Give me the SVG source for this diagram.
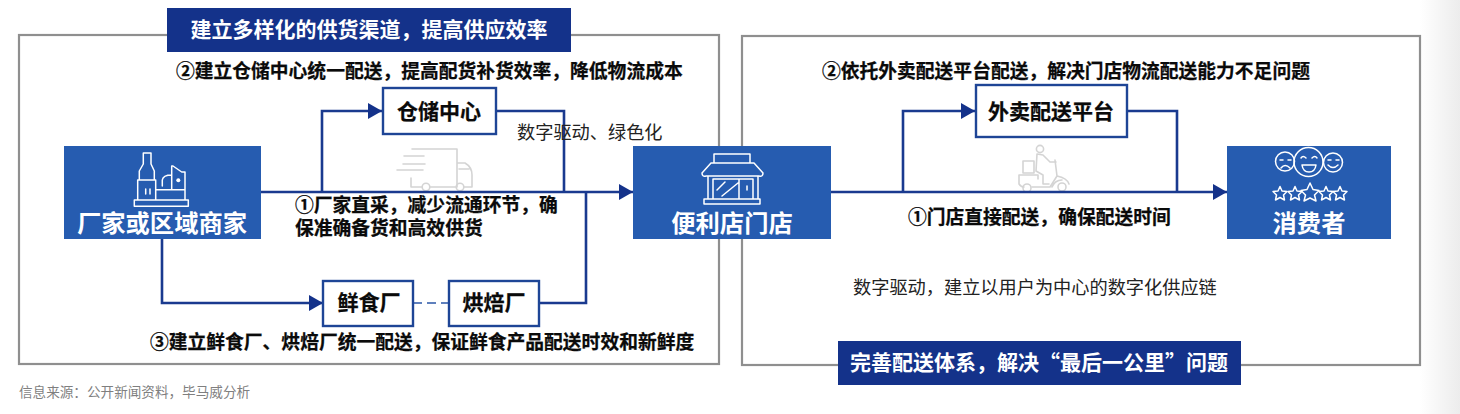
<svg xmlns="http://www.w3.org/2000/svg" width="1460" height="414" viewBox="0 0 1460 414">
<style>
text{font-family:"Noto Sans CJK SC","Liberation Sans",sans-serif}
.b{font-weight:700;fill:#0a0a0a;font-size:18.77px;stroke:#0a0a0a;stroke-width:.25}
.r{fill:#222;font-size:18.2px}
.w{font-weight:700;fill:#fff;text-anchor:middle}
.f{fill:none;stroke:#8f8f8f;stroke-width:2.2}
.bar{fill:#14328a}
.n{fill:#265cb0}
.box{fill:#fff;stroke:#1e4596;stroke-width:2.4}
.c{fill:none;stroke:#1a3a8f;stroke-width:2.6}
.i{fill:none;stroke:#fff;stroke-width:1.5;stroke-linejoin:round;stroke-linecap:round}
.g{fill:none;stroke:#d4d4d4;stroke-width:1.6;stroke-linejoin:round;stroke-linecap:round}
.t{font-weight:700;fill:#0a0a0a;font-size:21px;text-anchor:middle;stroke:#0a0a0a;stroke-width:.25}
</style>
<defs>
<marker id="a" markerUnits="userSpaceOnUse" markerWidth="14" markerHeight="16" refX="14" refY="8" orient="auto"><path d="M0 0L14 8L0 16Z" fill="#14328a"/></marker>
<linearGradient id="edge" x1="0" x2="1" y1="0" y2="0"><stop offset="0" stop-color="#fff"/><stop offset="1" stop-color="#ececec"/></linearGradient>
</defs>
<rect x="1420" width="40" height="414" fill="url(#edge)"/>
<rect class="f" x="19" y="35" width="700" height="329"/>
<rect class="f" x="742" y="36" width="678" height="329"/>
<g id="truck-icon">
<path class="g" d="M412 149H457V187M404 156H424M403 164H425M397 170H423M411 178V187H422M430 187H456M457 163H465Q472 167 472 175V187H464M459 169H469"/>
<circle class="g" cx="426" cy="187" r="3.800"/><circle class="g" cx="460" cy="187" r="3.800"/>
</g>
<g id="scooter-icon">
<circle class="g" cx="1040" cy="149" r="3.600"/>
<path class="g" d="M1037 154L1043 155L1050 162H1056M1037 154L1036 171L1043 175V184H1049M1023 161H1034V173H1023ZM1019 175H1038V179M1019 175V184Q1021 187 1024 187M1032 187H1050L1057 176L1055 160M1057 176Q1067 178 1069 184M1052 187Q1055 180 1062 180"/>
<circle class="g" cx="1027" cy="188" r="4"/><circle class="g" cx="1062" cy="187" r="4"/>
</g>
<g id="connectors">
<path class="c" d="M261 192H633" marker-end="url(#a)"/>
<path class="c" d="M322 192V111H382" marker-end="url(#a)"/>
<path class="c" d="M496 111H564V192"/>
<path class="c" d="M162 239V303H323" marker-end="url(#a)"/>
<path class="c" d="M540 303H586V192"/>
<path d="M413 303H449" fill="none" stroke="#5f80bd" stroke-width="2" stroke-dasharray="9 5"/>
<path class="c" d="M831 192H1227" marker-end="url(#a)"/>
<path class="c" d="M903 192V111H975" marker-end="url(#a)"/>
<path class="c" d="M1127 111H1177V192"/>
</g>
<g id="title-left"><rect class="bar" x="167" y="8" width="404" height="44"/><text class="w" x="369" y="37" font-size="21">建立多样化的供货渠道，提高供应效率</text></g>
<g id="title-right"><rect class="bar" x="838" y="341" width="403" height="44"/><text class="w" x="1039" y="370" font-size="21">完善配送体系，解决“最后一公里”问题</text></g>
<g id="factory"><rect class="n" x="64" y="146" width="197" height="93"/>
<path class="i" d="M143.300 153H151V164L154.300 171V180H139.300V171L143.300 164ZM137.700 180H155.700V200H137.700ZM145.700 189V194M150 189V194M134.300 200H188.300V206.300H134.300ZM155.700 189.700H185M162.300 186V180Q163 175 171.700 175M171.700 166V189.700M171.700 166H173L181.700 172H185V200"/><circle cx="178.300" cy="180.300" r="2" fill="#fff"/>
<text class="w" x="162" y="232" font-size="24.3">厂家或区域商家</text></g>
<g id="store"><rect class="n" x="633" y="146" width="198" height="93"/>
<path class="i" d="M714 154H750V163H714ZM711 163H754L763 173Q763 177 759 176H706Q702 177 702 173ZM708 176V199M758 176V199M704 199H760V204H704ZM713 179H753V199M713 179V199M739 179V199M717 190L725 182M722 196L738 183M747 186V190"/>
<text class="w" x="732" y="232" font-size="24.3">便利店门店</text></g>
<g id="consumer"><rect class="n" x="1227" y="146" width="164" height="93"/>
<circle class="i" cx="1285" cy="161.500" r="9.500"/><circle class="i" cx="1333" cy="162.500" r="9.500"/><circle class="i" cx="1308.500" cy="162" r="14.500"/>
<path class="i" d="M1280 160H1283M1288 160H1291M1281 168Q1285 163 1290 168M1328 160H1331M1336 160H1339M1328 165Q1333 170 1338 165M1301 158Q1303 155 1306 158M1312 158Q1315 155 1317 158M1302 165H1316Q1315 172 1309 172Q1303 172 1302 165Z"/>
<g transform="translate(1 0)">
<path class="i" d="M1279 186.500L1281 191L1286 191.500L1282.500 195L1283.500 200L1279 197.500L1274.500 200L1275.500 195L1272 191.500L1277 191Z"/>
<path class="i" d="M1294 186.500L1296 191L1301 191.500L1297.500 195L1298.500 200L1294 197.500L1289.500 200L1290.500 195L1287 191.500L1292 191Z"/>
<path class="i" d="M1309 183L1312 189.500L1318 190.500L1313.500 195L1315 201L1309 198L1303 201L1304.500 195L1300 190.500L1306 189.500Z"/>
<path class="i" d="M1325 186.500L1327 191L1332 191.500L1328.500 195L1329.500 200L1325 197.500L1320.500 200L1321.500 195L1318 191.500L1323 191Z"/>
<path class="i" d="M1339 186.500L1341 191L1346 191.500L1342.500 195L1343.500 200L1339 197.500L1334.500 200L1335.500 195L1332 191.500L1337 191Z"/>
</g>
<text class="w" x="1309" y="232" font-size="24.3">消费者</text></g>
<g id="warehouse"><rect class="box" x="383" y="88" width="113" height="46"/><text class="t" x="439" y="119">仓储中心</text></g>
<g id="delivery"><rect class="box" x="976" y="85" width="151" height="52"/><text class="t" x="1051" y="119">外卖配送平台</text></g>
<g id="fresh"><rect class="box" x="323" y="281" width="90" height="45"/><text class="t" x="369" y="310">鲜食厂</text></g>
<g id="bakery"><rect class="box" x="449" y="281" width="90" height="45"/><text class="t" x="494" y="310">烘焙厂</text></g>
<g id="labels">
<text class="b" x="176" y="78">②建立仓储中心统一配送，提高配货补货效率，降低物流成本</text>
<text class="r" x="517" y="139">数字驱动、绿色化</text>
<text class="b"><tspan x="295" y="212">①厂家直采，减少流通环节，确</tspan><tspan x="295" y="235">保准确备货和高效供货</tspan></text>
<text class="b" x="150" y="349">③建立鲜食厂、烘焙厂统一配送，保证鲜食产品配送时效和新鲜度</text>
<text class="b" x="822" y="78">②依托外卖配送平台配送，解决门店物流配送能力不足问题</text>
<text class="b" x="908" y="224">①门店直接配送，确保配送时间</text>
<text class="r" x="853" y="294">数字驱动，建立以用户为中心的数字化供应链</text>
<text x="19" y="397" font-size="13.600" fill="#7f7f7f">信息来源：公开新闻资料，毕马威分析</text>
</g>
</svg>
